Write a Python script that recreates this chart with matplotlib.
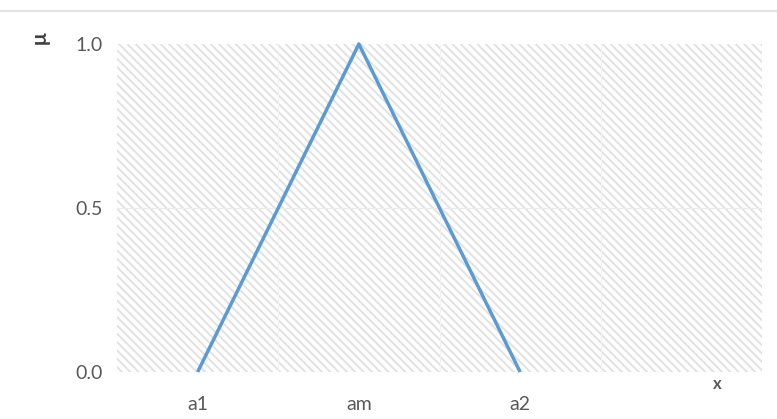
import matplotlib
matplotlib.use("Agg")
import matplotlib.pyplot as plt
from matplotlib.patches import Rectangle
from matplotlib.lines import Line2D

categories = ["a1", "am", "a2", ""]
values = [0.0, 1.0, 0.0]
yticks = [0.0, 0.5, 1.0]
ytick_labels = ["0.0", "0.5", "1.0"]

plt.rcParams['font.family'] = ['Lato', 'DejaVu Sans']
plt.rcParams['hatch.linewidth'] = 1.4

fig = plt.figure(figsize=(7.77, 4.19), dpi=100)
ax = fig.add_axes([117/777, 1-372/419, (762-117)/777, (372-44)/419])

ax.set_xlim(-0.5, len(categories)-0.5)
ax.set_ylim(0, 1.0)

hatch = Rectangle((0, 0), 1, 1, transform=ax.transAxes, facecolor='white',
                  edgecolor='#e2e2e2', hatch='\\\\\\\\', lw=0, zorder=0)
ax.add_patch(hatch)

ax.axhline(0.5, color='#ebebeb', lw=0.8, zorder=1)
ax.axhline(0.0, color='#dcdcdc', lw=0.8, zorder=1)
for xv in [0.5, 1.5, 2.5]:
    ax.axvline(xv, color='#f2f2f2', lw=0.8, zorder=1)

ax.plot(range(len(values)), values, color='#5B9BD5', lw=2.5, zorder=3,
        solid_capstyle='butt', clip_on=False)

for s in ax.spines.values():
    s.set_visible(False)

ax.set_yticks(yticks)
ax.set_yticklabels(ytick_labels, fontsize=14, color='#595959')
ax.set_xticks(range(len(categories)))
ax.set_xticklabels(categories, fontsize=14, color='#595959')
ax.tick_params(axis='both', length=0)
ax.tick_params(axis='x', pad=17)
ax.tick_params(axis='y', pad=10)

fig.text(717/777, 1-384/419, "x", fontsize=12, color='#595959', ha='center', va='center',
         fontweight='bold')
fig.text(40/777, 1-38/419, "μ", fontsize=15, color='#404040', ha='center', va='center',
         rotation=90, fontweight='bold')

fig.add_artist(Line2D([0, 1], [1-11/419, 1-11/419], color='#e3e3e3', lw=1.5,
                      transform=fig.transFigure))

fig.savefig("out.png", dpi=100)
